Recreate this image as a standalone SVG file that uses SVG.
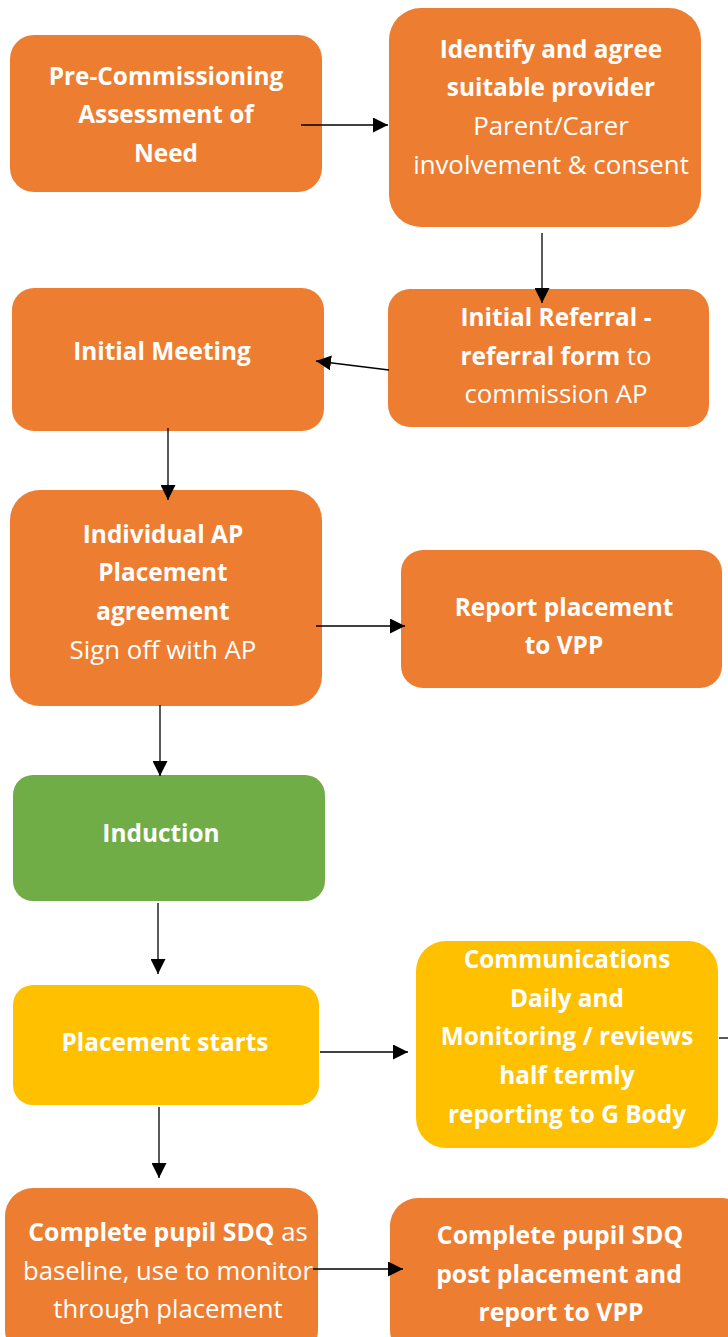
<svg xmlns="http://www.w3.org/2000/svg" width="728" height="1337" viewBox="0 0 728 1337">
<style>
.o{fill:#ED7D31}
.g{fill:#70AD47}
.y{fill:#FFC000}
text{font-family:"Open Sans","Liberation Sans",sans-serif;font-size:25.8px;fill:#fff;text-anchor:middle}
.b{font-weight:700;font-size:24.4px}
tspan.b{font-size:24.4px}
.t{font-size:25.7px}
.tb{font-size:24.8px;font-weight:700}
.c{stroke:#000;stroke-width:1.3;fill:none}
</style>
<defs>
<marker id="ah" viewBox="0 0 10 10" refX="10" refY="5" markerWidth="15" markerHeight="15" markerUnits="userSpaceOnUse" orient="auto">
<path d="M0,0 L10,5 L0,10 z" fill="#000"/>
</marker>
</defs>
<rect width="728" height="1337" fill="#fff"/>
<g id="n1"><rect class="o" x="10" y="35" width="312" height="157" rx="24"/>
<text class="b" x="166" y="85">Pre-Commissioning</text>
<text class="b" x="166" y="123">Assessment of</text>
<text class="b" x="166" y="162">Need</text></g>
<g id="n2"><rect class="o" x="389" y="8" width="312" height="219" rx="32"/>
<text class="b" x="551" y="58">Identify and agree</text>
<text class="b" x="551" y="96">suitable provider</text>
<text x="551" y="135">Parent/Carer</text>
<text x="551" y="174">involvement &amp; consent</text></g>
<g id="n3"><rect class="o" x="12" y="288" width="312" height="143" rx="22"/>
<text class="b" x="162" y="360">Initial Meeting</text></g>
<g id="n4"><rect class="o" x="388" y="289" width="321" height="138" rx="22"/>
<text class="b" x="556" y="326">Initial Referral -</text>
<text x="556" y="365"><tspan class="b">referral form</tspan> to</text>
<text x="556" y="403">commission AP</text></g>
<g id="n5"><rect class="o" x="10" y="490" width="312" height="216" rx="30"/>
<text class="b" x="163" y="543">Individual AP</text>
<text class="b" x="163" y="581">Placement</text>
<text class="b" x="163" y="620">agreement</text>
<text x="163" y="659">Sign off with AP</text></g>
<g id="n6"><rect class="o" x="401" y="550" width="321" height="138" rx="22"/>
<text class="b" x="564" y="616">Report placement</text>
<text class="b" x="564" y="654">to VPP</text></g>
<g id="n7"><rect class="g" x="13" y="775" width="312" height="126" rx="20"/>
<text class="b" x="161" y="842">Induction</text></g>
<g id="n8"><rect class="y" x="13" y="985" width="306" height="120" rx="20"/>
<text class="b" x="165" y="1051">Placement starts</text></g>
<g id="n9"><rect class="y" x="416" y="941" width="302" height="207" rx="30"/>
<text class="b" x="567" y="968">Communications</text>
<text class="b" x="567" y="1007">Daily and</text>
<text class="b" x="567" y="1045">Monitoring / reviews</text>
<text class="b" x="567" y="1084">half termly</text>
<text class="b" x="567" y="1123">reporting to G Body</text></g>
<g id="n10"><rect class="o" x="5" y="1188" width="313" height="170" rx="28"/>
<text class="t" x="168" y="1241"><tspan class="tb">Complete pupil SDQ</tspan> as</text>
<text class="t" x="168" y="1280">baseline, use to monitor</text>
<text class="t" x="168" y="1318">through placement</text></g>
<g id="n11"><rect class="o" x="390" y="1198" width="360" height="160" rx="28"/>
<text class="tb" x="560" y="1244">Complete pupil SDQ</text>
<text class="tb" x="559" y="1283">post placement and</text>
<text class="tb" x="561" y="1321">report to VPP</text></g>
<g id="connectors">
<line class="c" x1="301" y1="125" x2="388" y2="125" marker-end="url(#ah)"/>
<line class="c" x1="542" y1="233" x2="542" y2="303" marker-end="url(#ah)"/>
<line class="c" x1="389" y1="370" x2="316" y2="361" marker-end="url(#ah)"/>
<line class="c" x1="168" y1="428" x2="168" y2="500" marker-end="url(#ah)"/>
<line class="c" x1="316" y1="626" x2="405" y2="626" marker-end="url(#ah)"/>
<line class="c" x1="160" y1="705" x2="160" y2="776" marker-end="url(#ah)"/>
<line class="c" x1="158" y1="903" x2="158" y2="974" marker-end="url(#ah)"/>
<line class="c" x1="320" y1="1052" x2="408" y2="1052" marker-end="url(#ah)"/>
<line class="c" x1="159" y1="1107" x2="159" y2="1178" marker-end="url(#ah)"/>
<line class="c" x1="719" y1="1038" x2="728" y2="1038"/>
<line class="c" x1="313" y1="1269" x2="403" y2="1269" marker-end="url(#ah)"/>
</g>
</svg>
